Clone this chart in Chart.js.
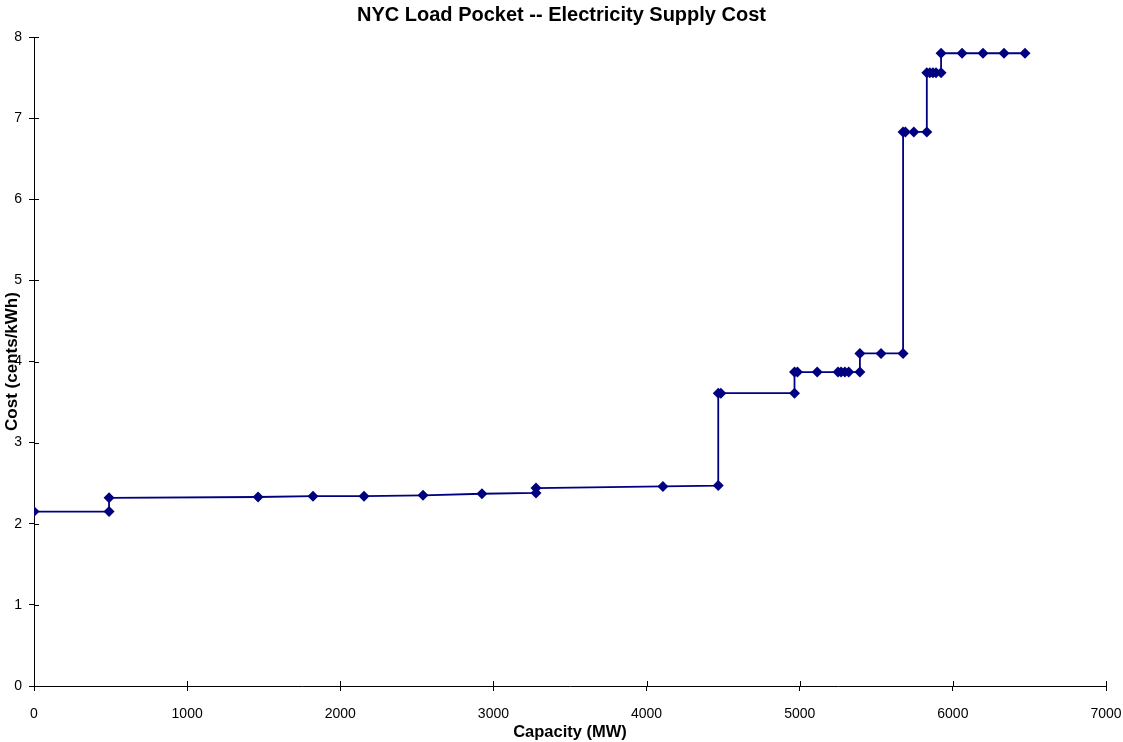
<!DOCTYPE html>
<html>
<head>
<meta charset="utf-8">
<script src="https://cdn.jsdelivr.net/npm/chart.js@4.4.0/dist/chart.umd.min.js"></script>
<style>
  html, body { margin: 0; padding: 0; background: #fff; }
  #wrap { width: 1123px; height: 742px; }
</style>
</head>
<body>
<div id="wrap"><canvas id="myChart" width="1123" height="742"></canvas></div>
<script>
// supply curve
var capacity = [0, 490, 490, 1463, 1822, 2155, 2540, 2925, 3278, 3278,
                4107, 4468, 4468, 4485, 4966, 4966, 4985, 5114, 5250, 5270,
                5295, 5320, 5393, 5393, 5531, 5675, 5675, 5690, 5745, 5830,
                5830, 5850, 5870, 5890, 5923, 5923, 6060, 6197, 6334, 6471];
var cost = [2.15, 2.15, 2.32, 2.33, 2.34, 2.34, 2.35, 2.37, 2.38, 2.44,
            2.46, 2.47, 3.61, 3.61, 3.61, 3.87, 3.87, 3.87, 3.87, 3.87,
            3.87, 3.87, 3.87, 4.10, 4.10, 4.10, 6.83, 6.83, 6.83, 6.83,
            7.56, 7.56, 7.56, 7.56, 7.56, 7.80, 7.80, 7.80, 7.80, 7.80];
var xTicks = [0, 1000, 2000, 3000, 4000, 5000, 6000, 7000];
var yTicks = [0, 1, 2, 3, 4, 5, 6, 7, 8];

var points = capacity.map(function (c, i) { return { x: c, y: cost[i] }; });
var fontFam = '"Liberation Sans", Arial, sans-serif';

// ticks that cross the axis + rotated y title drawn over the tick labels
var extras = {
  id: 'extras',
  afterDraw: function (chart) {
    var ctx = chart.ctx;
    var xs = chart.scales.x, ys = chart.scales.y;
    var area = chart.chartArea;
    ctx.save();
    ctx.strokeStyle = '#000';
    ctx.lineWidth = 1;
    ctx.beginPath();
    xTicks.forEach(function (t) {
      var px = Math.round(xs.getPixelForValue(t)) + 0.5;
      ctx.moveTo(px, area.bottom);
      ctx.lineTo(px, area.bottom - 5);
    });
    yTicks.forEach(function (t) {
      var py = Math.round(ys.getPixelForValue(t)) + 0.5;
      ctx.moveTo(area.left, py);
      ctx.lineTo(area.left + 5, py);
    });
    ctx.stroke();

    ctx.translate(12, (area.top + area.bottom) / 2);
    ctx.rotate(-Math.PI / 2);
    ctx.fillStyle = '#000';
    ctx.font = 'bold 17px ' + fontFam;
    ctx.textAlign = 'center';
    ctx.textBaseline = 'middle';
    ctx.fillText('Cost (cents/kWh)', 0, 0);
    ctx.restore();
  }
};

var ctx = document.getElementById('myChart').getContext('2d');
var chart = new Chart(ctx, {
  type: 'scatter',
  data: {
    datasets: [{
      label: 'Supply cost',
      data: points,
      showLine: true,
      borderColor: '#000080',
      backgroundColor: '#000080',
      borderWidth: 1.8,
      pointStyle: 'rectRot',
      pointRadius: 5.5,
      pointHoverRadius: 5.5,
      pointBorderWidth: 0
    }]
  },
  options: {
    responsive: false,
    animation: false,
    layout: { padding: 0 },
    plugins: {
      legend: { display: false },
      tooltip: { enabled: false },
      title: {
        display: true,
        text: 'NYC Load Pocket -- Electricity Supply Cost',
        color: '#000',
        font: { family: fontFam, size: 20, weight: 'bold' },
        padding: { top: 3, bottom: 10 }
      }
    },
    scales: {
      x: {
        type: 'linear',
        min: 0,
        max: 7000,
        afterFit: function (scale) {
          scale.height = 56;
          scale.paddingLeft = 0;
          scale.paddingRight = 17;
        },
        afterBuildTicks: function (scale) {
          scale.ticks = xTicks.map(function (v) { return { value: v }; });
        },
        grid: { drawOnChartArea: false, tickLength: 5, color: '#000' },
        border: { color: '#000', width: 1 },
        ticks: {
          color: '#000',
          padding: 15,
          maxRotation: 0,
          font: { family: fontFam, size: 14 },
          callback: function (v) { return String(v); }
        },
        title: {
          display: true,
          text: 'Capacity (MW)',
          color: '#000',
          padding: { top: 0, bottom: 0 },
          font: { family: fontFam, size: 16.5, weight: 'bold' }
        }
      },
      y: {
        type: 'linear',
        min: 0,
        max: 8,
        afterFit: function (scale) { scale.width = 34; },
        afterBuildTicks: function (scale) {
          scale.ticks = yTicks.map(function (v) { return { value: v }; });
        },
        grid: { drawOnChartArea: false, tickLength: 5, color: '#000' },
        border: { color: '#000', width: 1 },
        ticks: {
          color: '#000',
          padding: 7,
          font: { family: fontFam, size: 14 },
          callback: function (v) { return String(v); }
        }
      }
    }
  },
  plugins: [extras]
});
</script>
</body>
</html>
